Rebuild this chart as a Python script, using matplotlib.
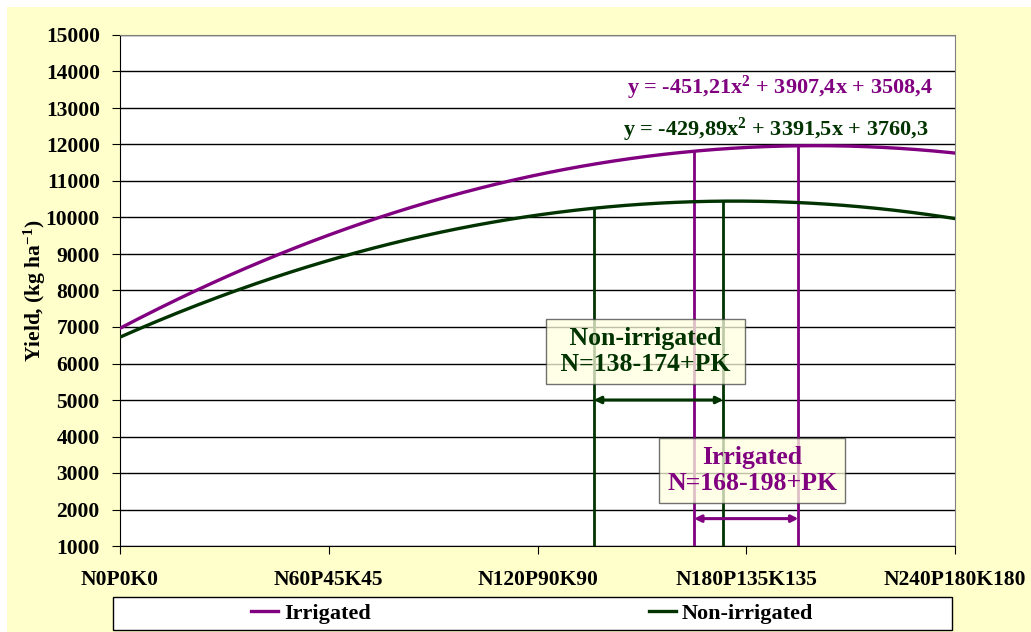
import numpy as np
import matplotlib.pyplot as plt
from matplotlib.patches import Rectangle

plt.rcParams['font.family'] = ['Liberation Serif', 'DejaVu Serif']
plt.rcParams['font.weight'] = 'bold'
plt.rcParams['axes.labelweight'] = 'bold'
plt.rcParams['mathtext.fontset'] = 'custom'
plt.rcParams['mathtext.rm'] = 'Liberation Serif:bold'
plt.rcParams['mathtext.bf'] = 'Liberation Serif:bold'
plt.rcParams['mathtext.default'] = 'bf'

# category labels along x (x = 1..5)
categories = ['N0P0K0', 'N60P45K45', 'N120P90K90', 'N180P135K135', 'N240P180K180']
# trendline coefficients shown on the chart (a, b, c)
irr_coef = [-451.21, 3907.4, 3508.4]
non_coef = [-429.89, 3391.5, 3760.3]
irr_eq = 'y = -451,21x$^{2}$ + 3907,4x + 3508,4'
non_eq = 'y = -429,89x$^{2}$ + 3391,5x + 3760,3'
# optimum N ranges (labels) and where their lines sit on the x scale
irr_range = [168, 198]
non_range = [138, 174]
irr_x = [3.75, 4.25]
non_x = [3.27, 3.89]

purple = '#800080'
green = '#003300'

fig = plt.figure(figsize=(10.31, 6.32), dpi=100)
fig.patches.append(Rectangle((7 / 1031, 0), 1, 1 - 7 / 632, transform=fig.transFigure,
                             facecolor='#FFFFCC', edgecolor='none', zorder=-10))
ax = fig.add_axes([120 / 1031, 1 - 546 / 632, 835 / 1031, 511 / 632])
ax.set_facecolor('white')

xs = np.linspace(1, 5, 300)
ax.plot(xs, np.polyval(irr_coef, xs), color=purple, lw=2.4, label='Irrigated', zorder=4)
ax.plot(xs, np.polyval(non_coef, xs), color=green, lw=2.4, label='Non-irrigated', zorder=4)

# vertical lines down from curves
for x in non_x:
    ax.plot([x, x], [1000, np.polyval(non_coef, x)], color=green, lw=2, zorder=3)
for x in irr_x:
    ax.plot([x, x], [1000, np.polyval(irr_coef, x)], color=purple, lw=2, zorder=3)

# range arrows
ax.annotate('', xy=(non_x[0], 5000), xytext=(non_x[1], 5000),
            arrowprops=dict(arrowstyle='<|-|>', color=green, lw=2.2, mutation_scale=10,
                            shrinkA=0, shrinkB=0), zorder=5)
ax.annotate('', xy=(irr_x[0], 1750), xytext=(irr_x[1], 1750),
            arrowprops=dict(arrowstyle='<|-|>', color=purple, lw=2.2, mutation_scale=10,
                            shrinkA=0, shrinkB=0), zorder=5)

box = dict(boxstyle='square,pad=0.3', facecolor='#FFFFE0', alpha=0.75, edgecolor='#404040', lw=1)
ax.text(3.517, 6330, ' Non-irrigated \n N=%d-%d+PK ' % tuple(non_range), color=green,
        fontsize=18.5, ha='center', va='center', linespacing=1.15, bbox=box, zorder=6)
ax.text(4.028, 3070, 'Irrigated\nN=%d-%d+PK' % tuple(irr_range), color=purple,
        fontsize=18.5, ha='center', va='center', linespacing=1.15, bbox=box, zorder=6)

ax.text(4.16, 13550, irr_eq, color=purple, fontsize=16, ha='center', va='center', zorder=6)
ax.text(4.14, 12400, non_eq, color=green, fontsize=16, ha='center', va='center', zorder=6)

ax.set_xlim(1, 5)
ax.set_ylim(1000, 15000)
ax.set_yticks(np.arange(1000, 15001, 1000))
ax.set_xticks(range(1, 6))
ax.set_xticklabels(categories)
ax.tick_params(axis='both', labelsize=15.5, direction='out', length=6, color='black')
ax.tick_params(axis='y', pad=8.5)
ax.tick_params(axis='x', pad=11)
for lab in ax.get_xticklabels() + ax.get_yticklabels():
    lab.set_fontweight('bold')
ax.grid(axis='y', color='black', lw=1)
ax.set_axisbelow(True)
for s in ['top', 'right']:
    ax.spines[s].set_color('#808080')
ax.set_ylabel('Yield, (kg ha$^{\\mathrm{-1}}$)', fontsize=15.5, labelpad=-2)

fig.patches.append(Rectangle((113 / 1031, 1 - 630 / 632), 839 / 1031, 33 / 632,
                             transform=fig.transFigure, facecolor='white', edgecolor='black', lw=1))
fig.legend(loc='center', bbox_to_anchor=(532 / 1031, 1 - 614 / 632), ncol=2, frameon=False,
           prop={'size': 16, 'weight': 'bold'}, handlelength=1.25, handletextpad=0.25,
           columnspacing=12.5)

fig.savefig('out.png', dpi=100)
